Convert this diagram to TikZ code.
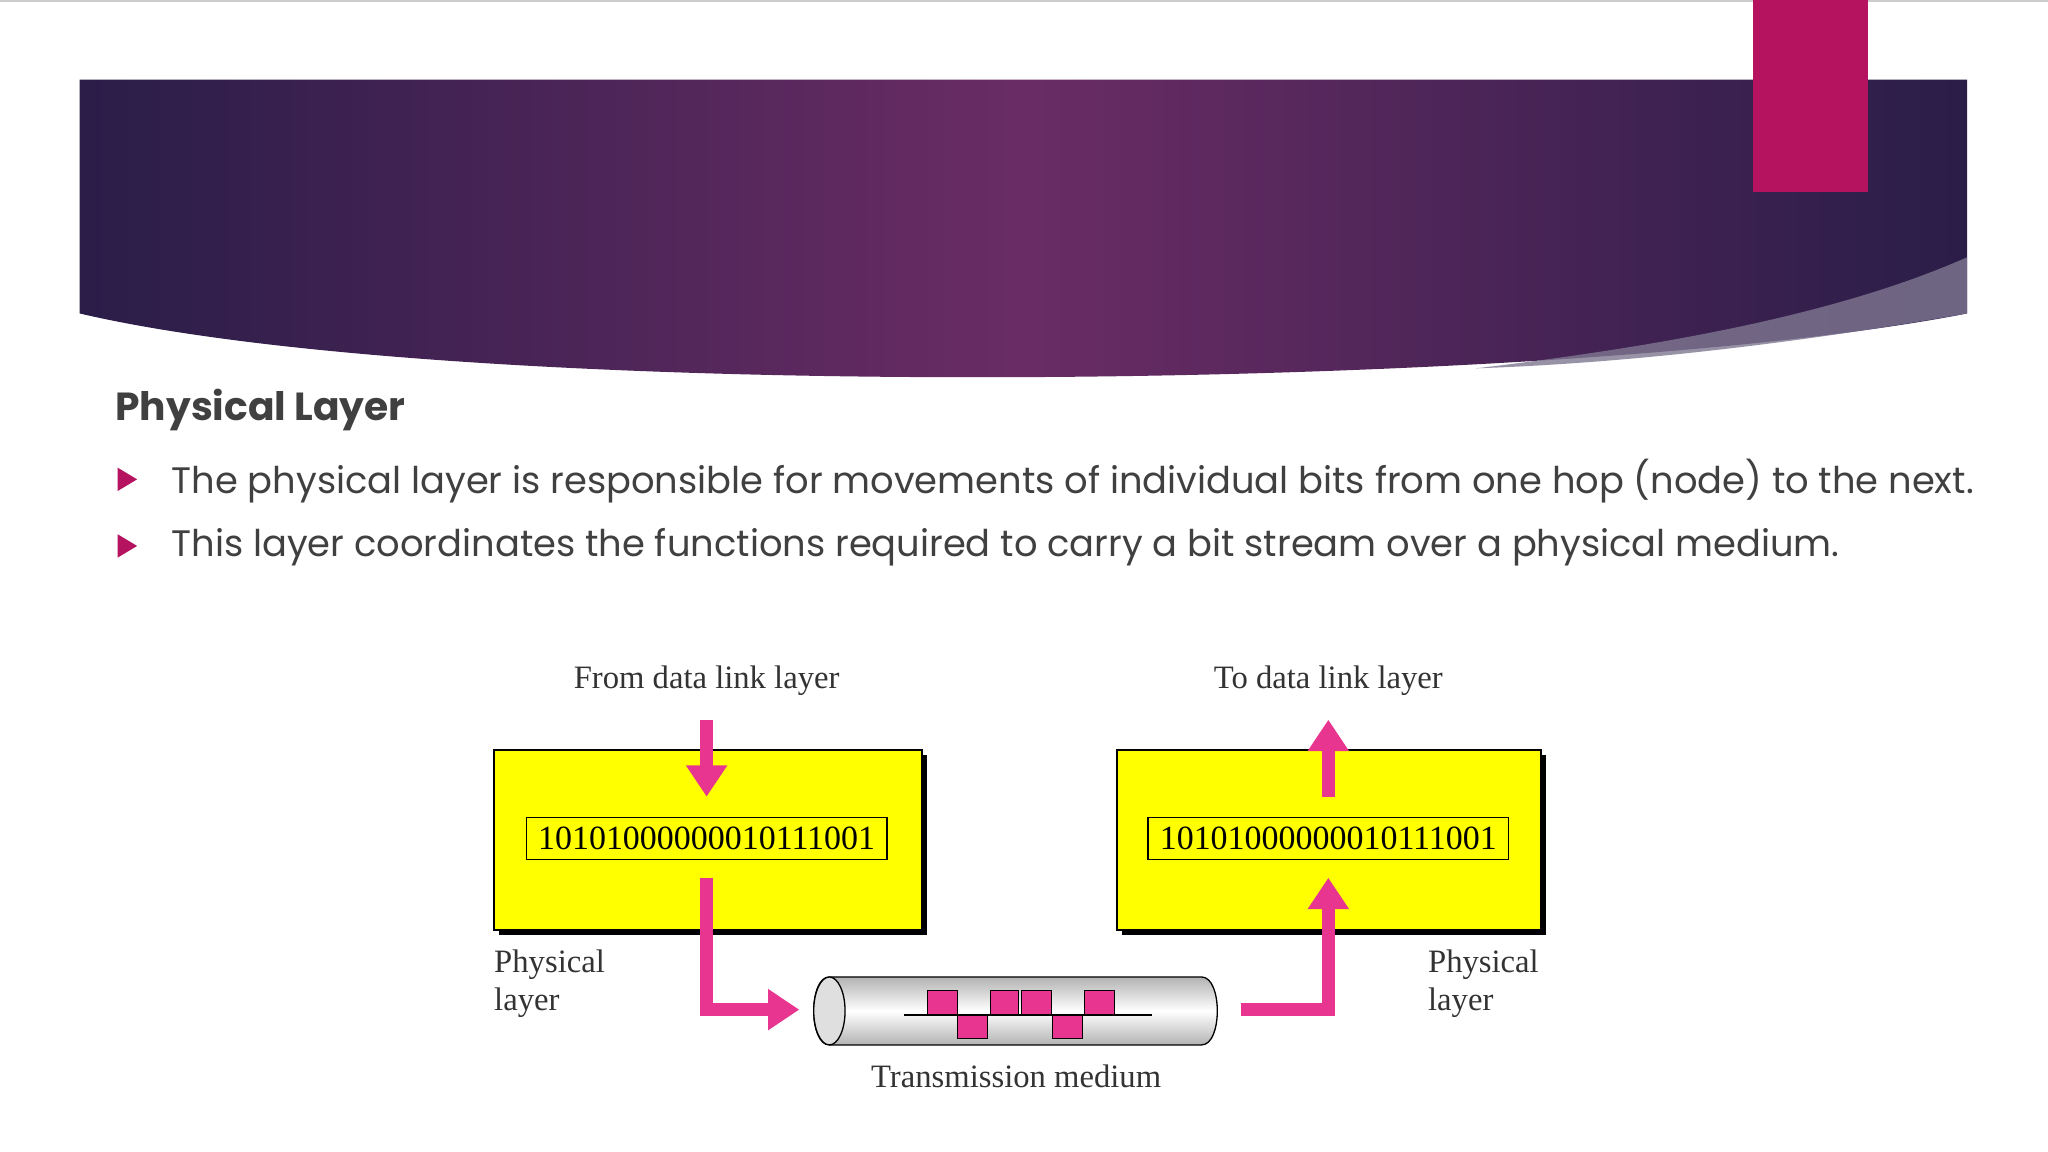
\documentclass[tikz,border=0pt]{standalone}
\usepackage{fontspec}
\setmainfont{Liberation Serif}
\newfontfamily\slidefont{Poppins}
\usetikzlibrary{arrows.meta,shapes.geometric}
\definecolor{navy}{HTML}{2A1D48}
\definecolor{plum}{HTML}{6A2C65}
\definecolor{barpink}{HTML}{B5135F}
\definecolor{arrowpink}{HTML}{E8358F}
\definecolor{txt}{HTML}{404040}
\definecolor{boxyellow}{HTML}{FFFF00}
\tikzset{
  yellowbox/.style={fill=boxyellow, draw=black, line width=0.6pt},
  bitbox/.style={draw=black, line width=0.5pt, inner sep=2pt, font=\fontsize{13}{14}\selectfont},
  lbl/.style={font=\fontsize{12.5}{14.5}\selectfont, text=black!80},
  fat/.style={draw=arrowpink, line width=5pt, -{Triangle[width=15pt,length=12pt]}},
  sq/.style={fill=arrowpink, draw=black, line width=0.4pt},
  bul/.style={fill=barpink, draw=none},
  bodytext/.style={font=\slidefont\fontsize{14.1}{16}\selectfont, text=txt, anchor=west, inner sep=0pt}
}
\begin{document}
\begin{tikzpicture}[x=0.5pt,y=-0.5pt]
\useasboundingbox (0,0) rectangle (1568,882);
\fill[white] (0,0) rectangle (1568,882);
\draw[gray!40, line width=1pt] (0,0.5) -- (1568,0.5);
% banner
\shade[left color=navy, right color=navy, middle color=plum]
  (61,61) -- (1506,61) -- (1506,240) .. controls (1200,300) and (360,310) .. (61,240) -- cycle;
\fill[white!40!navy, opacity=0.8] (1506,197) -- (1506,240) .. controls (1380,262) and (1250,278) .. (1130,282) .. controls (1300,262) and (1420,235) .. (1506,197) -- cycle;
\fill[barpink] (1342,0) rectangle (1430,147);
% title and bullets
\node[font=\slidefont\bfseries\fontsize{15}{18}\selectfont, text=txt, anchor=west, inner sep=0pt] (title) at (88,314) {Physical Layer};
\fill[bul] (90,358) -- (105,367) -- (90,376) -- cycle;
\fill[bul] (90,409) -- (105,418) -- (90,427) -- cycle;
\node[bodytext] (b1) at (131,368) {The physical layer is responsible for movements of individual bits from one hop (node) to the next.};
\node[bodytext] (b2) at (131,419) {This layer coordinates the functions required to carry a bit stream over a physical medium.};
% diagram boxes
\fill[black] (382,578) rectangle (710,716);
\fill[black] (859,578) rectangle (1184,716);
\draw[yellowbox] (378,574) rectangle (706,712);
\draw[yellowbox] (855,574) rectangle (1180,712);
\node[bitbox, minimum width=138pt, minimum height=16pt] (bitsL) at (541,642) {10101000000010111001};
\node[bitbox, minimum width=138pt, minimum height=16pt] (bitsR) at (1017,642) {10101000000010111001};
\node[lbl] (from) at (541,521) {From data link layer};
\node[lbl] (to) at (1017,521) {To data link layer};
\node[lbl, align=left, anchor=north west, inner sep=0pt] (plL) at (378,727) {Physical\\layer};
\node[lbl, align=left, anchor=north west, inner sep=0pt] (plR) at (1093,727) {Physical\\layer};
\node[lbl] (tm) at (778,824) {Transmission medium};
% cylinder
\shade[top color=gray!60, bottom color=gray!60, middle color=white, draw=black, line width=0.5pt]
  (635,748) -- (920,748) .. controls (936,748) and (936,800) .. (920,800) -- (635,800)
  .. controls (619,800) and (619,748) .. (635,748) -- cycle;
\draw[black, line width=0.5pt, fill=gray!25] (635,774) ellipse[x radius=12, y radius=26];
\coordinate (cylL) at (612,773);
\coordinate (cylR) at (950,773);
% signal
\draw[sq] (710,758) rectangle (733,777);
\draw[sq] (733,777) rectangle (756,795);
\draw[sq] (758,758) rectangle (780,777);
\draw[sq] (782,758) rectangle (805,777);
\draw[sq] (806,777) rectangle (829,795);
\draw[sq] (830,758) rectangle (853,777);
\draw[black, line width=0.8pt] (692,777) -- (882,777);
% arrows
\coordinate (inTop) at (541,551);
\coordinate (outTop) at (1017,551);
\draw[fat] (inTop) -- (541,610);
\draw[fat] (1017,610) -- (outTop);
\draw[fat] (541,672) -- (541,773) -- (cylL);
\draw[fat] (cylR) -- (1017,773) -- (1017,672);
\end{tikzpicture}
\end{document}
